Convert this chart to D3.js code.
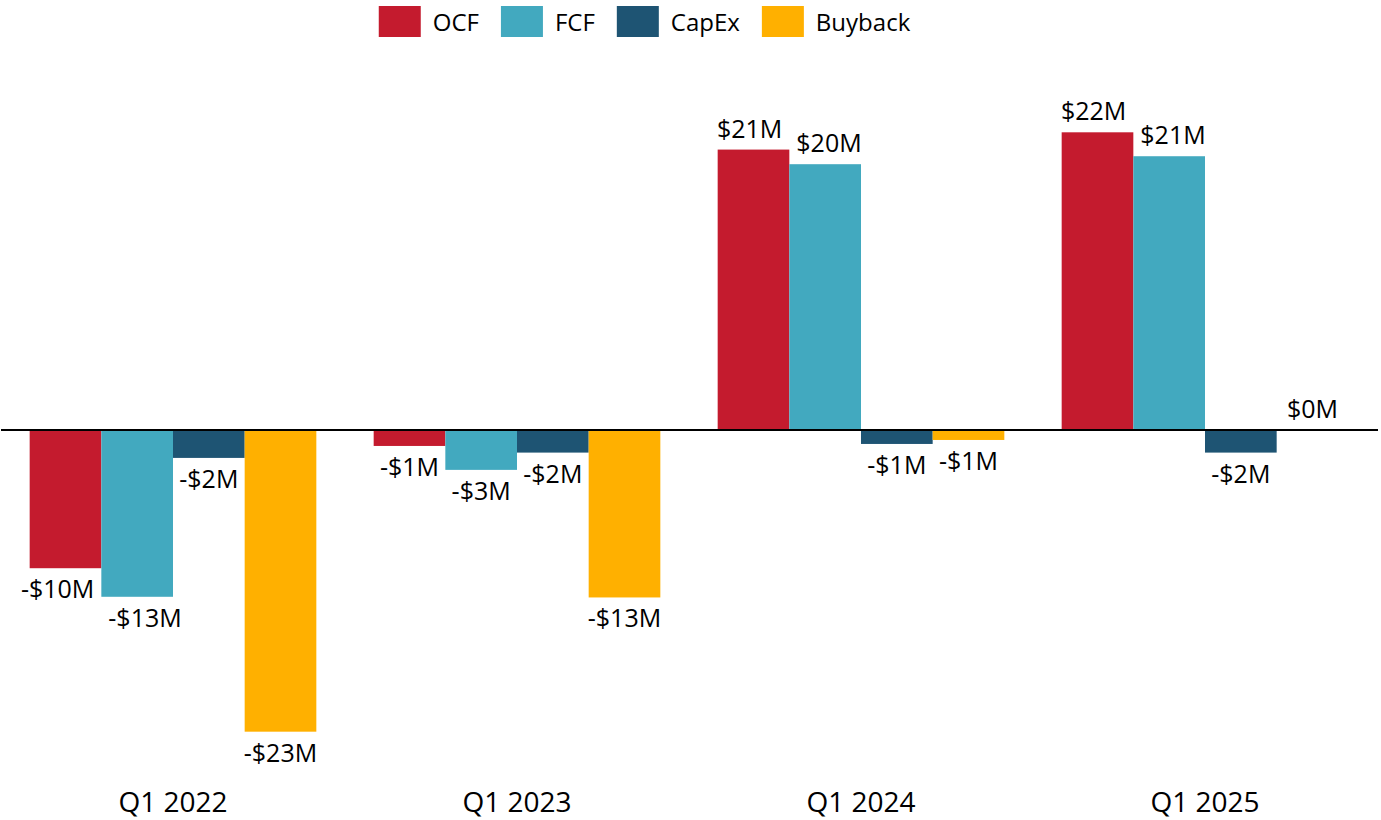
<!DOCTYPE html>
<html>
<head>
<meta charset="utf-8">
<script src="https://cdn.jsdelivr.net/npm/d3@7"></script>
<style>
  html, body { margin: 0; padding: 0; background: #fff; }
  svg { display: block; font-family: "Open Sans", "Noto Sans", sans-serif; }
</style>
</head>
<body>
<svg id="chart" width="1381" height="820"></svg>
<script>
// ---- data ----
const categories = ["Q1 2022", "Q1 2023", "Q1 2024", "Q1 2025"];
const seriesNames = ["OCF", "FCF", "CapEx", "Buyback"];
const ocf = [-10.4, -1.2, 21.1, 22.4];
const fcf = [-12.55, -3.0, 20.0, 20.6];
const capex = [-2.1, -1.7, -1.05, -1.7];
const buyback = [-22.7, -12.6, -0.75, 0];
const seriesColors = ["#C41B2E", "#42A9BF", "#1E5473", "#FFB000"];

const seriesValues = [ocf, fcf, capex, buyback];

const W = 1381, H = 820;
const svg = d3.select("#chart");

const x0 = d3.scaleBand().domain(categories).range([1, 1377])
  .paddingInner(1 / 6).paddingOuter(1 / 12);
const x1 = d3.scaleBand().domain(seriesNames).range([0, x0.bandwidth()]);
const y = d3.scaleLinear().domain([-25, 25]).range([762.25, 97.75]);
const color = d3.scaleOrdinal().domain(seriesNames).range(seriesColors);

const rows = [];
categories.forEach((c, ci) => {
  seriesNames.forEach((s, si) => {
    rows.push({ cat: c, ci, series: s, si, value: seriesValues[si][ci] });
  });
});

// bars
svg.append("g").selectAll("rect").data(rows).join("rect")
  .attr("x", d => x0(d.cat) + x1(d.series))
  .attr("width", x1.bandwidth())
  .attr("y", d => Math.min(y(0), y(d.value)))
  .attr("height", d => Math.abs(y(d.value) - y(0)))
  .attr("fill", d => color(d.series));

// zero line
svg.append("line")
  .attr("x1", 1).attr("x2", 1378)
  .attr("y1", y(0)).attr("y2", y(0))
  .attr("stroke", "#000").attr("stroke-width", 2);

// value labels
const fmt = v => (v < 0 ? "-" : "") + "$" + Math.round(Math.abs(v)) + "M";
const labelG = svg.append("g")
  .attr("font-size", 25).attr("fill", "#000").attr("text-anchor", "middle");
const labels = labelG.selectAll("text").data(rows).join("text")
  .text(d => fmt(d.value))
  .attr("x", d => x0(d.cat) + x1(d.series) + x1.bandwidth() / 2)
  .attr("y", d => d.value < 0 ? y(d.value) + 30 : y(d.value) - 12);

// simple collision avoidance between neighbouring labels in a group
labels.each(function (d) {
  d.lx = x0(d.cat) + x1(d.series) + x1.bandwidth() / 2;
  d.ly = d.value < 0 ? y(d.value) + 30 : y(d.value) - 12;
  d.lw = this.getComputedTextLength();
});
categories.forEach(c => {
  const group = rows.filter(r => r.cat === c).sort((a, b) => a.si - b.si);
  for (let i = 0; i < group.length - 1; i++) {
    const a = group[i], b = group[i + 1];
    if (Math.abs(a.ly - b.ly) < 32) {
      const gap = (b.lx - b.lw / 2) - (a.lx + a.lw / 2);
      if (gap < 8) {
        const shift = (14 - gap) / 2;
        a.lx -= shift; b.lx += shift;
      }
    }
  }
});
labels.attr("x", d => d.lx);

// category axis
const axis = svg.append("g")
  .attr("transform", `translate(0,812)`)
  .call(d3.axisBottom(x0).tickSize(0).tickPadding(0));
axis.select(".domain").remove();
axis.selectAll("text")
  .attr("y", 0).attr("dy", 0)
  .attr("font-size", 28)
  .attr("font-family", "'Open Sans', 'Noto Sans', sans-serif")
  .attr("fill", "#000");

// legend
const legend = svg.append("g");
const items = legend.selectAll("g").data(seriesNames).join("g");
items.append("rect")
  .attr("y", 6).attr("width", 42).attr("height", 31)
  .attr("fill", d => color(d));
items.append("text")
  .attr("x", 54).attr("y", 31)
  .attr("font-size", 24).attr("fill", "#000")
  .text(d => d);
const widths = [];
items.each(function () {
  const tw = d3.select(this).select("text").node().getComputedTextLength();
  widths.push(54 + tw);
});
const total = d3.sum(widths) + 22 * (widths.length - 1);
let startX = 644.5 - total / 2;
items.each(function (d, i) {
  d3.select(this).attr("transform", `translate(${startX},0)`);
  startX += widths[i] + 22;
});
</script>
</body>
</html>
